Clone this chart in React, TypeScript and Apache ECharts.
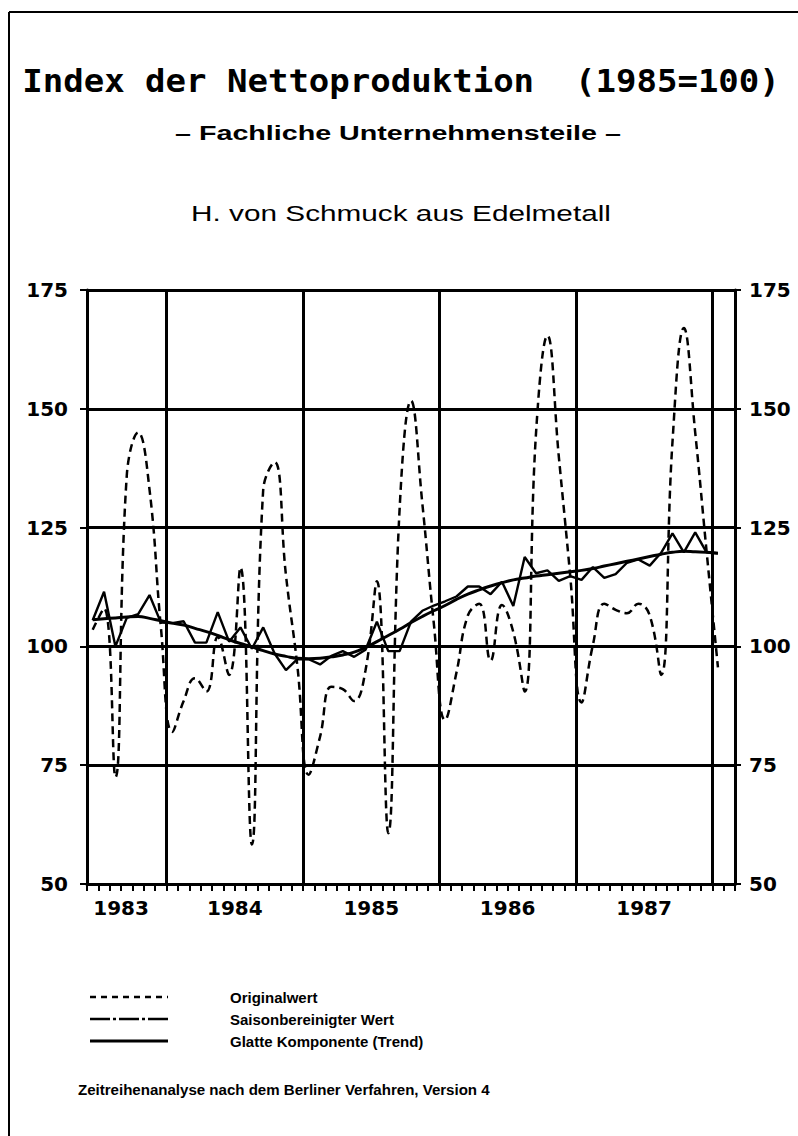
import React, { useEffect, useRef } from "react";
import * as echarts from "echarts";

// Monthly observations, June 1983 – January 1988
const months = [
  "1983-06", "1983-07", "1983-08", "1983-09", "1983-10", "1983-11", "1983-12",
  "1984-01", "1984-02", "1984-03", "1984-04", "1984-05", "1984-06", "1984-07", "1984-08", "1984-09", "1984-10", "1984-11", "1984-12",
  "1985-01", "1985-02", "1985-03", "1985-04", "1985-05", "1985-06", "1985-07", "1985-08", "1985-09", "1985-10", "1985-11", "1985-12",
  "1986-01", "1986-02", "1986-03", "1986-04", "1986-05", "1986-06", "1986-07", "1986-08", "1986-09", "1986-10", "1986-11", "1986-12",
  "1987-01", "1987-02", "1987-03", "1987-04", "1987-05", "1987-06", "1987-07", "1987-08", "1987-09", "1987-10", "1987-11", "1987-12",
  "1988-01",
];

const original = [
  103.5, 108, 72.5, 136, 145, 133, 104,
  82, 88.5, 93.3, 90.5, 102, 94, 116.6, 58.3, 133, 138.8, 115, 96,
  73, 81, 91.5, 91, 88.5, 95, 113.7, 60.7, 129, 151.7, 130, 105,
  84.5, 94.5, 106.5, 109, 97, 108.7, 103, 90.5, 145, 165.4, 140, 115,
  88.2, 100.3, 109, 107.7, 107, 109, 106.5, 94, 143, 167, 145, 120,
  95.6,
];

const seasonAdjusted = [
  105.5, 111.5, 100, 106, 106.8, 110.8, 105,
  104.9, 105.3, 100.8, 100.8, 107.2, 101, 104, 99.5, 104, 98.5, 95, 97.3,
  97.3, 96.2, 98, 99, 97.8, 99.3, 105.2, 99, 99, 105.2, 107.5, 108.6,
  109.5, 110.5, 112.6, 112.6, 111, 113.6, 108.5, 118.8, 115.4, 116, 113.8, 114.8,
  114, 116.7, 114.4, 115.2, 117.6, 118.3, 117, 119.7, 123.8, 119.8, 124, 119.8,
  119.6,
];

const trend = [
  105.6, 105.8, 106, 106.2, 106.3, 105.9, 105.4,
  104.9, 104.5, 103.8, 103.1, 102.3, 101.4, 100.6, 99.9, 99.1, 98.4, 97.9, 97.5,
  97.4, 97.5, 97.8, 98.2, 98.8, 99.8, 101, 102.3, 103.6, 105, 106.3, 107.5,
  108.6, 109.9, 111, 111.9, 112.7, 113.4, 114, 114.4, 114.8, 115.1, 115.4, 115.7,
  116, 116.4, 116.9, 117.4, 117.9, 118.4, 118.9, 119.4, 119.8, 120, 119.9, 119.8,
  119.6,
];

const yMin = 50;
const yMax = 175;
const yStep = 25;

const legendNames = ["Originalwert", "Saisonbereinigter Wert", "Glatte Komponente (Trend)"];

const titleText = "Index der Nettoproduktion  (1985=100)";
const subtitleText = "– Fachliche Unternehmensteile –";
const subtitle2Text = "H. von Schmuck aus Edelmetall";
const footerText = "Zeitreihenanalyse nach dem Berliner Verfahren, Version 4";

function fitScale(text: string, font: string, target: number): number {
  const c = document.createElement("canvas").getContext("2d");
  if (!c) return 1;
  c.font = font;
  const w = c.measureText(text).width;
  return w > 0 ? target / w : 1;
}

export default function App() {
  const ref = useRef<HTMLDivElement>(null);

  useEffect(() => {
    if (!ref.current) return;
    const chart = echarts.init(ref.current, null, { renderer: "svg" });

    const nSlots = months.length + 1; // axis spans one extra month on the right
    const toPt = (arr: number[]) => arr.map((v, i) => [i + 0.5, v]);

    // Year boundaries (January starts) and year label positions
    const yearBounds: number[] = [];
    months.forEach((m, i) => {
      if (m.endsWith("-01")) yearBounds.push(i);
    });
    const labelMap: Record<number, string> = {};
    const years = Array.from(new Set(months.map((m) => m.slice(0, 4))));
    years.forEach((y) => {
      const first = months.findIndex((m) => m.startsWith(y));
      let last = -1;
      months.forEach((m, i) => {
        if (m.startsWith(y)) last = i;
      });
      const span = last - first + 1;
      if (span >= 6) labelMap[Math.floor((first + last + 1) / 2)] = y;
    });

    const labelFont = { fontFamily: "DejaVu Sans", fontWeight: "bold" as const, fontSize: 20, color: "#000" };

    const titleFont = 'bold 32px "DejaVu Sans Mono"';
    const subFont = 'bold 20px "Liberation Sans"';
    const sub2Font = '22px "Liberation Sans"';
    const legFont = 'bold 15px "Liberation Sans"';
    const footFont = 'bold 14px "Liberation Sans"';

    const legendRows = [997, 1019, 1041];
    const legendDash: any[] = [[6, 5], [20, 3, 3, 3], null];
    const legendWidth = [2.5, 2.5, 3];

    const graphic: any[] = [
      { type: "line", shape: { x1: 9, y1: 12, x2: 798, y2: 12 }, style: { stroke: "#000", lineWidth: 2 } },
      { type: "line", shape: { x1: 9, y1: 12, x2: 9, y2: 1136 }, style: { stroke: "#000", lineWidth: 2 } },
      {
        type: "text", x: 401, y: 81, scaleX: fitScale(titleText, titleFont, 758),
        style: { text: titleText, font: titleFont, fill: "#000", textAlign: "center", textVerticalAlign: "middle" },
      },
      {
        type: "text", x: 398, y: 133, scaleX: fitScale(subtitleText, subFont, 446),
        style: { text: subtitleText, font: subFont, fill: "#000", textAlign: "center", textVerticalAlign: "middle" },
      },
      {
        type: "text", x: 401, y: 213, scaleX: fitScale(subtitle2Text, sub2Font, 420),
        style: { text: subtitle2Text, font: sub2Font, fill: "#000", textAlign: "center", textVerticalAlign: "middle" },
      },
      {
        type: "text", x: 78, y: 1090, scaleX: fitScale(footerText, footFont, 412),
        style: { text: footerText, font: footFont, fill: "#000", textAlign: "left", textVerticalAlign: "middle" },
      },
    ];
    legendNames.forEach((name, i) => {
      graphic.push({
        type: "line",
        shape: { x1: 90, y1: legendRows[i], x2: 168, y2: legendRows[i] },
        style: { stroke: "#000", lineWidth: legendWidth[i], lineDash: legendDash[i] || undefined },
      });
      graphic.push({
        type: "text", x: 230, y: legendRows[i],
        style: { text: name, font: legFont, fill: "#000", textAlign: "left", textVerticalAlign: "middle" },
      });
    });

    chart.setOption({
      animation: false,
      backgroundColor: "#fff",
      grid: { left: 87, top: 290, width: 648, height: 594, containLabel: false },
      xAxis: {
        type: "value",
        min: 0,
        max: nSlots,
        interval: 1,
        splitLine: { show: false },
        axisLine: { show: true, onZero: false, lineStyle: { color: "#000", width: 3 } },
        axisTick: { show: true, length: 7, lineStyle: { color: "#000", width: 2 } },
        axisLabel: {
          ...labelFont,
          margin: 14,
          showMinLabel: true,
          showMaxLabel: true,
          formatter: (v: number) => labelMap[Math.round(v)] || "",
        },
      },
      yAxis: [
        {
          type: "value",
          min: yMin,
          max: yMax,
          interval: yStep,
          position: "left",
          splitLine: { show: true, lineStyle: { color: "#000", width: 3 } },
          axisLine: { show: true, lineStyle: { color: "#000", width: 3 } },
          axisTick: { show: true, length: 7, lineStyle: { color: "#000", width: 2 } },
          axisLabel: { ...labelFont, margin: 19 },
        },
        {
          type: "value",
          min: yMin,
          max: yMax,
          interval: yStep,
          position: "right",
          splitLine: { show: false },
          axisLine: { show: true, lineStyle: { color: "#000", width: 3 } },
          axisTick: { show: true, length: 6, lineStyle: { color: "#000", width: 2 } },
          axisLabel: { ...labelFont, margin: 14 },
        },
      ],
      series: [
        {
          name: legendNames[0],
          type: "line",
          data: toPt(original),
          smooth: 0.45,
          showSymbol: false,
          lineStyle: { color: "#000", width: 2.5, type: [8, 5] },
          markLine: {
            silent: true,
            symbol: ["none", "none"],
            label: { show: false },
            lineStyle: { color: "#000", width: 3, type: "solid" },
            data: yearBounds.map((b) => ({ xAxis: b })),
          },
        },
        {
          name: legendNames[1],
          type: "line",
          data: toPt(seasonAdjusted),
          showSymbol: false,
          lineStyle: { color: "#000", width: 2.4, type: "solid" },
        },
        {
          name: legendNames[2],
          type: "line",
          data: toPt(trend),
          smooth: 0.5,
          showSymbol: false,
          lineStyle: { color: "#000", width: 3, type: "solid" },
        },
      ],
      graphic,
    });

    return () => chart.dispose();
  }, []);

  return (
    <div
      ref={ref}
      style={{ position: "absolute", left: 0, top: 0, width: 798, height: 1136, background: "#fff" }}
    />
  );
}
